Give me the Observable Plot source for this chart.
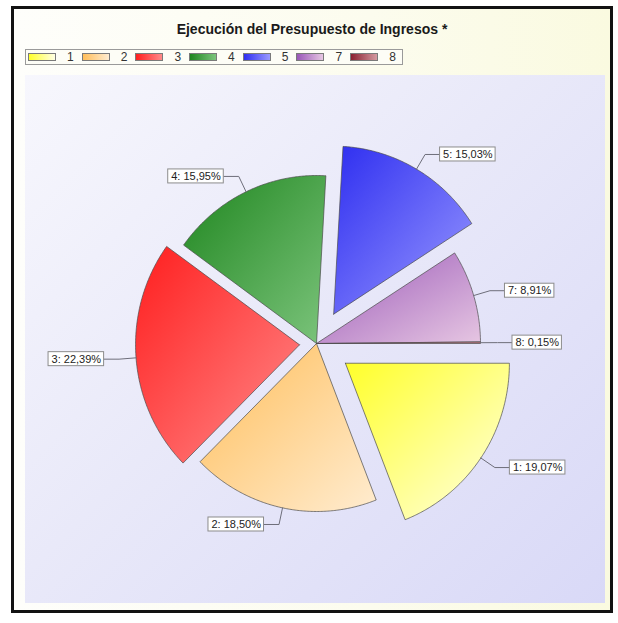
<!DOCTYPE html>
<html>
<head>
<meta charset="utf-8">
<script src="https://cdn.jsdelivr.net/npm/d3@7"></script>
<script src="https://cdn.jsdelivr.net/npm/@observablehq/plot@0.6"></script>
<style>
  html, body { margin: 0; padding: 0; background: #ffffff; }
  body { width: 618px; height: 623px; position: relative; overflow: hidden; font-family: "Liberation Sans", Arial, sans-serif; }
  #frame { position: absolute; left: 11px; top: 6px; width: 602px; height: 607px; box-sizing: border-box;
           border: 3px solid #121212; background: linear-gradient(90deg, #fefefb 0%, #fcfcee 60%, #fafae0 100%); }
  #title { position: absolute; left: 11px; width: 602px; top: 21px; text-align: center; font-weight: bold; font-size: 14px; color: #1a1a1a; }
  #legend { position: absolute; left: 25px; top: 49px; height: 16px; box-sizing: border-box; border: 1px solid #9a9a9a;
            background: #fdfdf6; display: flex; align-items: center; padding: 0 6px 0 2px; font-size: 12px; color: #333; }
  .item { display: flex; align-items: center; margin-right: 8px; }
  .item:last-child { margin-right: 0; }
  .sw { width: 26px; height: 6px; border: 1px solid #7a7a7a; margin-right: 11px; }
  #chart { position: absolute; left: 25px; top: 75px; }
  #defs { position: absolute; width: 0; height: 0; }
</style>
</head>
<body>
<div id="frame"></div>
<div id="title">Ejecución del Presupuesto de Ingresos *</div>
<div id="legend"></div>
<svg id="defs" width="0" height="0"><defs id="gdefs"></defs></svg>
<div id="chart"></div>
<script>
// ---- data ----
const categories = ["1", "2", "3", "4", "5", "7", "8"];
const shares = [19.07, 18.50, 22.39, 15.95, 15.03, 8.91, 0.15];
// ---- styles ----
const colorStart = ["#ffff2a", "#ffbe5a", "#ff1e1e", "#1f861f", "#2e2ef0", "#9a58b8", "#8a2030"];
const colorEnd   = ["#ffffe4", "#ffecd0", "#ff8a8a", "#7cc47c", "#9a9aff", "#e6c6e2", "#d49aa0"];
const explodePx  = [35, 0, 17, 0, 34, 0, 0];

const RX = 164, RY = 168, W = 580, H = 528, CX = 291, CY = 268;

// gradients
const gdefs = document.getElementById("gdefs");
const NS = "http://www.w3.org/2000/svg";
categories.forEach((c, i) => {
  const g = document.createElementNS(NS, "linearGradient");
  g.setAttribute("id", "g" + i);
  g.setAttribute("x1", "0"); g.setAttribute("y1", "0");
  g.setAttribute("x2", "1"); g.setAttribute("y2", "1");
  [[0, colorStart[i]], [1, colorEnd[i]]].forEach(([o, col]) => {
    const s = document.createElementNS(NS, "stop");
    s.setAttribute("offset", o); s.setAttribute("stop-color", col);
    g.appendChild(s);
  });
  gdefs.appendChild(g);
});

// legend
const legend = document.getElementById("legend");
categories.forEach((c, i) => {
  const it = document.createElement("div"); it.className = "item";
  const sw = document.createElement("div"); sw.className = "sw";
  sw.style.background = `linear-gradient(90deg, ${colorStart[i]}, ${colorEnd[i]})`;
  const lb = document.createElement("span"); lb.textContent = c;
  it.appendChild(sw); it.appendChild(lb); legend.appendChild(it);
});

// geometry (units: pie radius = 1, y up)
const total = d3.sum(shares);
const rad = d => d * Math.PI / 180;
const pt = (deg, r, ox, oy) => [ox + r * Math.cos(rad(deg)), oy - r * Math.sin(rad(deg))];
let acc = 0;
const slices = shares.map((v, i) => {
  const a0 = acc / total * 360; acc += v; const a1 = acc / total * 360;
  const mid = (a0 + a1) / 2;
  const ox = explodePx[i] * Math.cos(rad(mid)) / RX, oy = -explodePx[i] * Math.sin(rad(mid)) / RY;
  return {i, cat: categories[i], v, a0, a1, mid, ox, oy};
});

const slicePts = slices.map(s => {
  const pts = [{x: s.ox, y: s.oy}];
  const n = Math.max(2, Math.ceil((s.a1 - s.a0) / 0.5));
  for (let k = 0; k <= n; k++) {
    const [x, y] = pt(s.a0 + (s.a1 - s.a0) * k / n, 1, s.ox, s.oy);
    pts.push({x, y});
  }
  pts.push({x: s.ox, y: s.oy});
  return pts;
});

// labels
const ctx = document.createElement("canvas").getContext("2d");
ctx.font = "11px 'Liberation Sans'";
const fmt = v => v.toFixed(2).replace(".", ",") + "%";
const labels = slices.map(s => {
  const text = `${s.cat}: ${fmt(s.v)}`;
  const tw = ctx.measureText(text).width;
  const [ax, ay] = pt(s.mid, 1, s.ox, s.oy);
  const ex = ax + 17 * Math.cos(rad(s.mid)) / RX;
  const ey = ay - 17 * Math.sin(rad(s.mid)) / RY;
  const side = Math.cos(rad(s.mid)) >= 0 ? 1 : -1;
  const bx = ex + side * 15 / RX;
  const bw = (tw + 6) / RX;
  return {
    text, side,
    line: [{x: ax, y: ay, k: text}, {x: ex, y: ey, k: text}, {x: bx, y: ey, k: text}],
    x1: side > 0 ? bx : bx - bw, x2: side > 0 ? bx + bw : bx,
    y1: ey - 7 / RY, y2: ey + 7 / RY,
    tx: bx + side * 3 / RX, ty: ey
  };
});

const marks = [];
slicePts.forEach((pts, i) => {
  marks.push(Plot.line(pts, {x: "x", y: "y", fill: `url(#g${i})`, stroke: "#4a4a4a", strokeWidth: 0.7, curve: "linear"}));
});
marks.push(Plot.line(labels.flatMap(l => l.line), {x: "x", y: "y", z: "k", stroke: "#6e6e7a", strokeWidth: 1}));
marks.push(Plot.rect(labels, {x1: "x1", x2: "x2", y1: "y1", y2: "y2", fill: "#ffffff", stroke: "#8c8c8c", strokeWidth: 1}));
marks.push(Plot.text(labels.filter(l => l.side > 0), {x: "tx", y: "ty", text: "text", textAnchor: "start", fontSize: 11, fill: "#222"}));
marks.push(Plot.text(labels.filter(l => l.side < 0), {x: "tx", y: "ty", text: "text", textAnchor: "end", fontSize: 11, fill: "#222"}));

const chart = Plot.plot({
  width: W, height: H,
  margin: 0,
  x: {domain: [-CX / RX, (W - CX) / RX], range: [0, W], axis: null},
  y: {domain: [-(H - CY) / RY, CY / RY], range: [H, 0], axis: null},
  style: {background: "linear-gradient(135deg, #f7f7fd 0%, #e9e9f9 45%, #d9d9f7 100%)", fontFamily: "'Liberation Sans', Arial, sans-serif", overflow: "visible"},
  marks
});
document.getElementById("chart").appendChild(chart);
</script>
</body>
</html>
